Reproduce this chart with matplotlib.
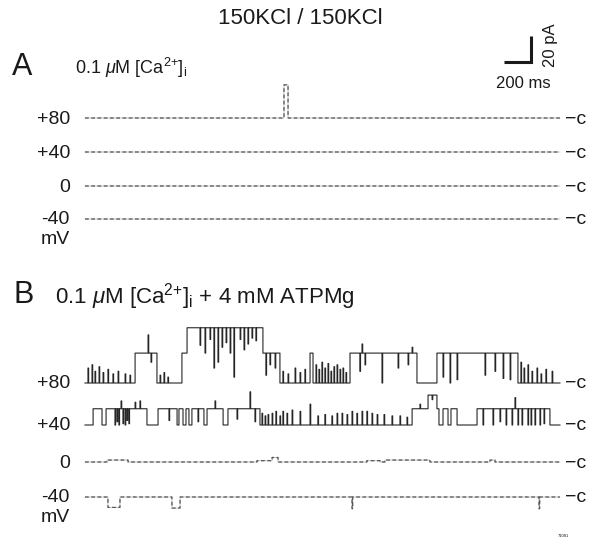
import numpy as np
import matplotlib
matplotlib.use("Agg")
import matplotlib.pyplot as plt

plt.rcParams['font.family'] = ['Liberation Sans', 'DejaVu Sans']
plt.rcParams['mathtext.fontset'] = 'custom'
plt.rcParams['mathtext.rm'] = 'Liberation Sans'
plt.rcParams['mathtext.it'] = 'Liberation Sans:italic'

# ---- data (time in ms, current in pA) ----
T_END = 3518

# panel A, 0.1 uM Ca: a single brief opening at +80 mV, flat elsewhere
a80_t = [0, 1474, 1504]
a80_lvl = [0, 25.5, 0]
a40_t = [0]
a40_lvl = [0]
a0_t = [0]
a0_lvl = [0]
am40_t = [0]
am40_lvl = [0]

# panel B, 0.1 uM Ca + 4 mM ATPMg
b80_t = [0, 371, 533, 718, 756, 1318, 1444, 1667, 1689, 1963, 2459, 2607, 3207]
b80_lvl = [0, 23, 0, 23, 42.5, 23, 0, 23, 0, 23, 0, 23, 0]
b80_flick_t = [22, 52, 74, 104, 134, 170, 207, 245, 297, 333, 467, 489, 556, 585, 614,
               852, 889, 926, 955, 985, 1015, 1045, 1075, 1103, 1149, 1178, 1207, 1237, 1266,
               1340, 1370, 1408, 1466, 1504, 1556, 1593, 1629,
               1711, 1733, 1755, 1777, 1800, 1822, 1844, 1867, 1889, 1911, 1933,
               2036, 2052, 2074, 2200, 2319, 2393, 2423,
               2652, 2704, 2756, 2963, 3037, 3097, 3149,
               3229, 3252, 3281, 3311, 3348, 3378, 3414, 3460]
b80_flick_v = [11.5, 14, 9, 12.5, 8, 10.5, 7, 9, 7, 6, 37, 16, 6, 8, 4.5,
               29, 23, 33.5, 11.5, 16, 27.5, 31, 23, 4.5, 33.5, 25.5, 30, 34.5, 32.5,
               6, 14, 11.5, 9, 7, 11.5, 8, 10.5,
               14, 10.5, 16, 11.5, 15, 9, 12.5, 14, 10.5, 11.5, 8,
               9, 30, 14, 0, 11.5, 14, 27.5,
               4.5, 0, 2.5, 6, 9, 3.5, 2.5,
               16, 11.5, 14, 9, 11.5, 7, 10.5, 9]

b40_t = [0, 60, 126, 156, 459, 541, 682, 696, 726, 748, 770, 792, 881, 904, 1023, 1059,
         1296, 2423, 2541, 2607, 2622, 2652, 2689, 2711, 2756, 2904, 3444]
b40_lvl = [0, 12.5, 0, 12.5, 0, 12.5, 0, 12.5, 0, 12.5, 0, 12.5, 0, 12.5, 0, 12.5,
           0, 12.5, 23, 12.5, 0, 12.5, 0, 12.5, 0, 12.5, 0]
b40_flick_t = [222, 237, 251, 267, 281, 297, 311, 325, 371, 407, 622, 837, 963, 1126, 1222, 1259,
               1311, 1334, 1356, 1386, 1414, 1444, 1466, 1496, 1534, 1593, 1667, 1725, 1777,
               1829, 1867, 1904, 1941, 1978, 2014, 2052, 2088, 2126, 2164, 2215, 2274, 2333, 2385,
               2481, 2571, 2948, 3022, 3074, 3119, 3163, 3185, 3207, 3237, 3281, 3304, 3333,
               3370, 3400]
b40_flick_v = [0, 2.5, 0, 18.5, 1, 0, 3.5, 1, 17.5, 18.5, 3.5, 2.5, 18.5, 4.5, 25.5, 2.5,
               9, 7, 8, 9, 10.5, 7, 10.5, 9, 11.5, 10.5, 16, 7, 8,
               7, 9, 9, 8, 10.5, 9, 10.5, 10.5, 9, 8, 8, 7, 7, 6,
               16, 19.5, 0, 0, 2.5, 0, 0, 21, 0, 0, 0, 0, 0,
               0, 1]

b0_t = [0, 163, 319, 1274, 1386, 1430, 2088, 2186, 2222, 2555, 3000, 3037]
b0_lvl = [0, 1.5, 0, 1, 3.5, 0, 1, 0, 1.5, 0, 1.5, 0]

bm40_t = [0, 170, 259, 644, 704]
bm40_lvl = [0, -8, 0, -8.5, 0]
bm40_flick_t = [1978, 3363]
bm40_flick_v = [-9, -9]

# ---- layout (figure pixels) ----
W, H = 598, 545
MS_PER_PX = 200 / 27
PX_PER_PA = 1.3
X0 = 85

fig = plt.figure(figsize=(W / 100, H / 100), dpi=100)
ax = fig.add_axes([0, 0, 1, 1])
ax.set_xlim(-X0 * MS_PER_PX, (W - X0) * MS_PER_PX)
ax.set_ylim(0, H / PX_PER_PA)
ax.axis('off')


def base(ypix):
    return (H - ypix) / PX_PER_PA


def trace(ts, lv, fl_t=(), fl_v=(), w=5):
    t = np.arange(0, T_END + 1, 1.0)
    idx = np.searchsorted(ts, t, side='right') - 1
    y = np.asarray(lv, dtype=float)[idx]
    for ft, fv in zip(fl_t, fl_v):
        y[(t >= ft) & (t < ft + w)] = fv
    return t, y


def faint(t, y):
    # scanned, broken-looking trace: faint solid line under a dashed one
    ax.plot(t, y, drawstyle='steps-post', color='#b8b8b8', lw=0.6)
    ax.plot(t, y, drawstyle='steps-post', color='#555555', lw=0.9, dashes=(3, 2))


for ts, lv, yp in [(a80_t, a80_lvl, 118), (a40_t, a40_lvl, 152),
                   (a0_t, a0_lvl, 186), (am40_t, am40_lvl, 219)]:
    t, y = trace(ts, lv)
    faint(t, y + base(yp))

for ts, lv, ft, fv, yp in [(b80_t, b80_lvl, b80_flick_t, b80_flick_v, 383),
                           (b40_t, b40_lvl, b40_flick_t, b40_flick_v, 425)]:
    t, y = trace(ts, lv, ft, fv)
    ax.plot(t, y + base(yp), drawstyle='steps-post', color='#262626', lw=0.8)

for ts, lv, ft, fv, yp in [(b0_t, b0_lvl, [], [], 462),
                           (bm40_t, bm40_lvl, bm40_flick_t, bm40_flick_v, 497)]:
    t, y = trace(ts, lv, ft, fv)
    faint(t, y + base(yp))

# scale bar 200 ms / 20 pA
cx = (531 - X0) * MS_PER_PX
cy = base(62)
ax.plot([cx - 200, cx, cx], [cy, cy, cy + 20], color='#1a1a1a', lw=2.2,
        solid_joinstyle='miter', solid_capstyle='butt')


def ftext(xp, yp, s, **kw):
    fig.text(xp / W, 1 - yp / H, s, color='#1a1a1a', **kw)


ftext(300, 18, '150KCl / 150KCl', fontsize=16, ha='center', va='center')
ftext(12, 67, 'A', fontsize=22, ha='left', va='center')
ftext(75, 68, r'0.1 $\mu$M [Ca$^{2{+}}$]$_\mathrm{i}$', fontsize=13, ha='left', va='center')
ftext(14, 295, 'B', fontsize=22, ha='left', va='center')
ftext(55, 297, r'0.1 $\mu$M [Ca$^{2{+}}$]$_\mathrm{i}$ + 4 mM ATPMg', fontsize=16,
      ha='left', va='center')
ftext(523, 83, '200 ms', fontsize=12, ha='center', va='center')
ftext(550, 45, '20 pA', fontsize=12, ha='center', va='center', rotation=90)

labels = ['+80', '+40', '0', '-40']
for ys, ymv in [([118, 152, 186, 219], 240), ([383, 425, 462, 497], 517)]:
    for lab, yp in zip(labels, ys):
        ftext(70, yp + 1, lab, fontsize=14, ha='right', va='center')
        ftext(565, yp + 1, '\u2212c', fontsize=14, ha='left', va='center')
    ftext(70, ymv, 'mV', fontsize=14, ha='right', va='center')

ftext(563, 536, '71081', fontsize=3, ha='center', va='center')

fig.savefig('out.png', dpi=100, facecolor='white')
